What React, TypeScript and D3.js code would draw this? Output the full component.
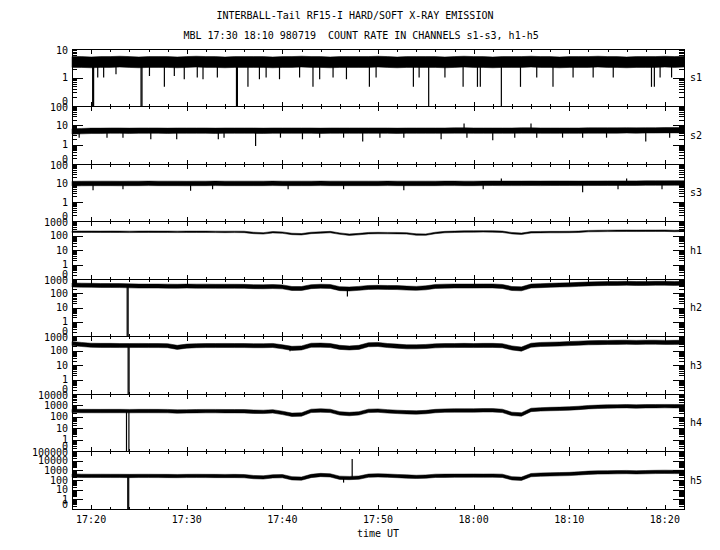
import React from "react";
import * as d3 from "d3";

// ---------- text ----------
const TITLE_LINE_1 = "INTERBALL-Tail RF15-I HARD/SOFT X-RAY EMISSION";
const TITLE_LINE_2 = "MBL 17:30 18:10 980719  COUNT RATE IN CHANNELS s1-s3, h1-h5";
const X_AXIS_TITLE = "time UT";

// ---------- axes ----------
// time measured in minutes after 17:18 UT
const timeDomain = [0, 64];
const timeTickMinutes = [2, 12, 22, 32, 42, 52, 62];
const timeTickLabels = ["17:20", "17:30", "17:40", "17:50", "18:00", "18:10", "18:20"];
const channelNames = ["s1", "s2", "s3", "h1", "h2", "h3", "h4", "h5"];
const channelTopValue = [10, 100, 100, 1000, 1000, 1000, 10000, 100000];
const channelBottomValue = 0.1; // labelled "0"

// ---------- data (1-minute samples from 17:18 to 18:22) ----------
const sampleMinutes = d3.range(0, 65);

const s1Mid = [3.5,3.5,3.4,3.5,3.5,3.6,3.5,3.4,3.5,3.5,3.5,3.4,3.5,3.6,3.5,3.5,3.4,3.5,3.5,3.5,
  3.5,3.4,3.5,3.5,3.6,3.5,3.5,3.4,3.5,3.5,3.5,3.5,3.6,3.5,3.4,3.5,3.5,3.5,3.5,3.4,
  3.5,3.6,3.5,3.5,3.4,3.5,3.5,3.5,3.6,3.5,3.5,3.4,3.5,3.5,3.5,3.6,3.5,3.5,3.4,3.5,
  3.5,3.5,3.6,3.5,3.6];
const s2Mid = [4.8,5.0,5.2,5.2,5.3,5.3,5.2,5.3,5.3,5.3,5.2,5.3,5.3,5.3,5.3,5.2,5.3,5.3,5.3,5.3,
  5.2,5.3,5.3,5.3,5.3,5.3,5.2,5.3,5.3,5.3,5.3,5.3,5.3,5.3,5.2,5.3,5.3,5.3,5.3,5.3,
  5.4,5.4,5.3,5.3,5.3,5.3,5.3,5.4,5.4,5.3,5.3,5.3,5.3,5.3,5.4,5.4,5.4,5.4,5.5,5.4,
  5.5,5.5,5.6,5.6,5.6];
const s3Mid = [9.3,9.4,9.5,9.5,9.5,9.4,9.5,9.5,9.6,9.5,9.5,9.5,9.4,9.5,9.5,9.6,9.5,9.5,9.5,9.5,
  9.5,9.6,9.5,9.5,9.5,9.5,9.6,9.5,9.5,9.5,9.5,9.5,9.5,9.6,9.5,9.5,9.5,9.5,9.5,9.6,
  9.6,9.5,9.5,9.6,9.7,9.6,9.6,9.6,9.7,9.6,9.7,9.7,9.7,9.6,9.7,9.7,9.8,9.8,9.8,9.8,
  9.9,9.9,9.9,10.0,10.0];
const h1Mid = [180,182,182,180,182,180,178,180,182,180,180,178,180,180,180,178,176,178,176,150,
  140,168,158,128,122,150,160,172,135,114,125,145,148,146,145,140,116,115,150,172,
  180,188,190,192,190,180,145,132,165,170,172,172,175,180,200,205,208,210,212,210,
  212,212,214,205,212];
const h2Mid = [380,370,360,350,350,345,330,320,320,320,315,310,318,315,315,310,310,310,305,290,
  285,295,280,215,215,290,310,300,210,200,220,255,260,255,250,230,220,240,300,315,
  320,320,320,325,325,300,215,205,320,340,360,380,390,420,450,470,480,490,500,480,
  490,500,500,490,500];
const h3Mid = [300,260,230,225,225,220,220,222,220,220,215,165,200,215,220,220,222,220,220,215,
  215,222,180,140,150,230,235,220,165,150,165,250,260,220,200,180,180,190,210,220,
  220,225,220,225,225,215,150,125,230,260,270,280,300,320,340,350,360,365,370,360,
  370,370,360,365,370];
const h4Mid = [330,320,320,318,320,320,315,320,320,318,315,290,300,310,315,315,310,310,305,280,
  270,300,220,150,160,330,360,330,200,175,200,330,350,300,270,250,240,260,320,350,
  360,360,360,370,370,330,180,160,400,450,480,500,540,600,700,750,800,820,850,800,
  840,850,860,850,860];
const h5Mid = [290,270,265,268,265,265,260,265,265,262,260,255,262,265,262,260,258,260,250,200,
  185,240,250,150,140,260,330,300,170,160,175,280,300,280,255,230,210,225,270,275,
  280,280,285,280,285,270,150,135,320,360,380,400,420,480,560,600,620,640,660,620,
  650,680,700,680,690];
const channelMid = [s1Mid, s2Mid, s3Mid, h1Mid, h2Mid, h3Mid, h4Mid, h5Mid];

// scatter of the count rate around the running level (decades, each side)
const noiseHalfDecades = [0.19, 0.14, 0.12, 0.05, 0.14, 0.14, 0.15, 0.17];

// isolated excursions: minute and extreme count (0 = dropout)
const s1SpikeMinute = [2.16,2.26,2.69,3.31,4.6,7.22,7.32,8.1,9.66,10.7,11.74,13.1,13.7,15.2,17.2,17.3,18.4,19.6,20.3,21.7,
  23.8,25.2,25.9,27.3,28.7,31.1,31.8,35.7,36.3,37.3,39.0,40.9,42.4,42.7,44.9,46.9,48.6,50.3,52.4,54.5,56.6,60.6,60.9,61.5,62.7];
const s1SpikeValue = [0,0,1.0,1.0,1.3,0,0,1.13,0.47,1.13,0.87,1.0,0.87,1.0,0,0,0.47,0.87,1.0,0.87,
  1.0,0.47,0.87,1.0,0.87,0.47,1.0,0.47,1.0,0,1.0,0.47,0.47,0.47,0,0.47,1.0,0.47,1.0,1.0,1.0,0.47,0.47,1.0,1.0];
const s2SpikeMinute = [0.75,3.66,5.33,8.24,10.95,15.3,15.9,19.2,21.8,24.1,25.9,28.4,30.4,32.2,34.7,38.6,41.3,44.0,46.3,48.6,51.3,53.4,55.9,60.0,62.5,41.0,48.0];
const s2SpikeValue = [2.3,2.3,2.3,1.9,1.9,1.9,2.3,0.85,2.3,1.9,2.3,2.3,1.45,2.3,2.3,1.9,2.3,1.7,2.3,2.3,2.3,2.3,2.3,1.45,2.3,12.5,12.5];
const s3SpikeMinute = [2.2,5.33,12.4,14.7,22.6,28.4,34.7,43.0,53.4,57.1,61.7,44.9,58.0];
const s3SpikeValue = [4.2,4.7,3.9,4.7,4.7,4.7,4.2,4.7,3.3,4.7,4.7,17,17];
const h1SpikeMinute: number[] = [];
const h1SpikeValue: number[] = [];
const h2SpikeMinute = [5.77,5.87,28.8];
const h2SpikeValue = [0,0,58];
const h3SpikeMinute = [5.87,5.97,22.8];
const h3SpikeValue = [0,0,90];
const h4SpikeMinute = [5.7,5.95];
const h4SpikeValue = [0,0];
const h5SpikeMinute = [5.83,5.93,28.4,29.3];
const h5SpikeValue = [0,0,54,14600];
const channelSpikeMinute = [s1SpikeMinute, s2SpikeMinute, s3SpikeMinute, h1SpikeMinute, h2SpikeMinute, h3SpikeMinute, h4SpikeMinute, h5SpikeMinute];
const channelSpikeValue = [s1SpikeValue, s2SpikeValue, s3SpikeValue, h1SpikeValue, h2SpikeValue, h3SpikeValue, h4SpikeValue, h5SpikeValue];

const FONT = "'DejaVu Sans Mono', monospace";

export default function App() {
  const W = 720, H = 550;
  const left = 72, right = 684, top0 = 49, step = 57.5;
  const x = d3.scaleLinear().domain(timeDomain).range([left, right]);
  const minorTimeTicks = d3.range(timeDomain[0] + 2, timeDomain[1], 2);

  const panels = channelNames.map((name, i) => {
    const top = Math.floor(top0 + i * step);
    const bottom = Math.floor(top0 + (i + 1) * step);
    const topVal = channelTopValue[i];
    const y = d3.scaleLog().domain([channelBottomValue, topVal]).range([bottom, top]).clamp(true);
    const mid = channelMid[i];
    const h = Math.pow(10, noiseHalfDecades[i]);
    const area = d3.area<number>()
      .x((_, j) => x(sampleMinutes[j]))
      .y0((d) => y(d / h))
      .y1((d) => y(d * h));
    const midAt = (t: number) => {
      const j = Math.max(0, Math.min(mid.length - 2, Math.floor(t)));
      const f = t - sampleMinutes[j];
      return Math.exp(Math.log(mid[j]) * (1 - f) + Math.log(mid[j + 1]) * f);
    };
    const topExp = Math.round(Math.log10(topVal));
    const botExp = Math.round(Math.log10(channelBottomValue));
    const decades = d3.range(botExp, topExp + 1);
    const minorVals: number[] = [];
    for (let e = botExp; e < topExp; e++) for (let k = 2; k <= 9; k++) minorVals.push(k * Math.pow(10, e));
    return { name, i, top, bottom, y, mid, area, midAt, decades, minorVals, topExp, botExp };
  });

  return (
    <svg width={W} height={H} style={{ position: "absolute", left: 0, top: 0, background: "#fff" }}
      fontFamily={FONT} fontSize={10}>
      <rect x={0} y={0} width={W} height={H} fill="#fff" />
      <text x={216.5} y={19} fill="#000">{TITLE_LINE_1}</text>
      <text x={183.5} y={39} fill="#000" style={{ whiteSpace: "pre" }}>{TITLE_LINE_2}</text>

      {panels.map((p) => (
        <g key={p.name}>
          {/* data band */}
          <path d={p.area(p.mid) || ""} fill="#000" stroke="#000" strokeWidth={0.5} />
          {channelSpikeMinute[p.i].map((t, k) => {
            const v = channelSpikeValue[p.i][k];
            const y0 = p.y(p.midAt(t));
            const y1 = v <= 0 ? p.bottom : p.y(v);
            return <line key={k} x1={x(t)} x2={x(t)} y1={y0} y2={y1} stroke="#000" strokeWidth={1.2} />;
          })}
          {/* frame */}
          <rect x={left + 0.5} y={p.top + 0.5} width={right - left} height={p.bottom - p.top}
            fill="none" stroke="#000" strokeWidth={1} shapeRendering="crispEdges" />
          {/* time ticks */}
          <g stroke="#000" strokeWidth={1} shapeRendering="crispEdges">
            {minorTimeTicks.map((m) => {
              const major = timeTickMinutes.includes(m);
              const len = major ? 4.5 : 2.5;
              const xx = Math.round(x(m)) + 0.5;
              return (
                <g key={m}>
                  <line x1={xx} x2={xx} y1={p.top} y2={p.top + len} />
                  <line x1={xx} x2={xx} y1={p.bottom} y2={p.bottom - len} />
                </g>
              );
            })}
            {/* log ticks */}
            {p.minorVals.map((v) => {
              const yy = Math.round(p.y(v)) + 0.5;
              return (
                <g key={"m" + v}>
                  <line x1={left} x2={left + 5} y1={yy} y2={yy} />
                  <line x1={right} x2={right - 5} y1={yy} y2={yy} />
                </g>
              );
            })}
            {p.decades.map((e) => {
              const yy = Math.round(p.y(Math.pow(10, e))) + 0.5;
              return (
                <g key={"d" + e}>
                  <line x1={left} x2={left + 11} y1={yy} y2={yy} />
                  <line x1={right} x2={right - 11} y1={yy} y2={yy} />
                </g>
              );
            })}
          </g>
          {/* y labels */}
          {p.decades.map((e) => {
            const v = Math.pow(10, e);
            const label = e < 0 ? "0" : String(v);
            let yy = p.y(v);
            if (e === p.botExp) {
              return <text key={"l" + e} x={68} y={p.bottom - 1.5} textAnchor="end" fill="#000">{label}</text>;
            }
            if (e === p.topExp) yy += 1.5;
            return <text key={"l" + e} x={68} y={yy} dy="0.36em" textAnchor="end" fill="#000">{label}</text>;
          })}
          <text x={690} y={(p.top + p.bottom) / 2} dy="0.36em" fill="#000">{p.name}</text>
        </g>
      ))}

      {timeTickMinutes.map((m, k) => (
        <text key={m} x={x(m)} y={523} textAnchor="middle" fill="#000">{timeTickLabels[k]}</text>
      ))}
      <text x={(left + right) / 2} y={536.5} textAnchor="middle" fill="#000">{X_AXIS_TITLE}</text>
    </svg>
  );
}
